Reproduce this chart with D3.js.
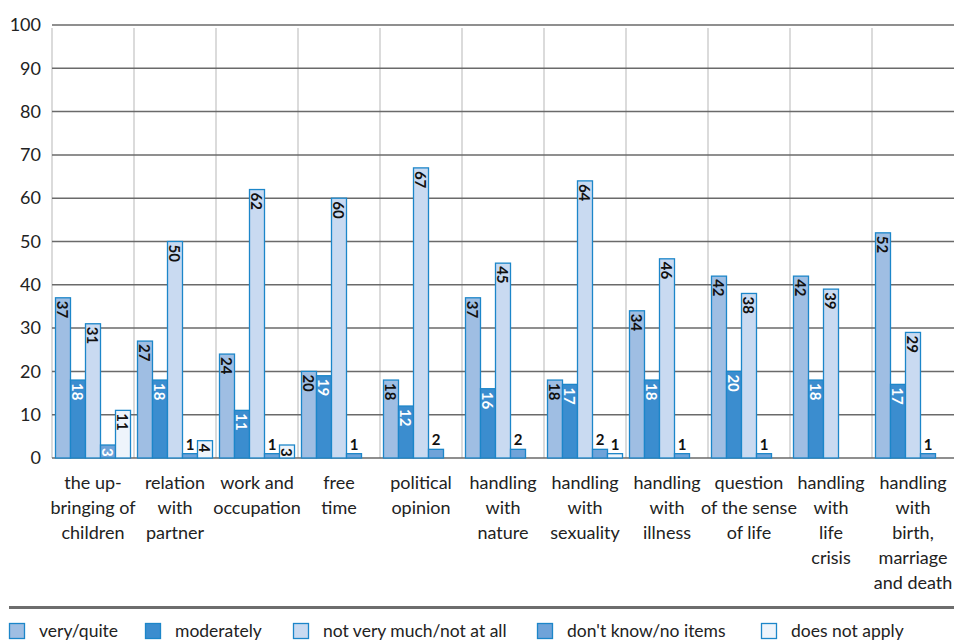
<!DOCTYPE html>
<html><head><meta charset="utf-8">
<script src="https://cdn.jsdelivr.net/npm/d3@7"></script>
<style>
body{margin:0;background:#fff;}
svg{display:block;font-family:Lato, "Open Sans", sans-serif;}
</style></head>
<body><svg id="chart" width="954" height="642"></svg>
<script>
const categories = [
  ["the up-","bringing of","children"],
  ["relation","with","partner"],
  ["work and","occupation"],
  ["free","time"],
  ["political","opinion"],
  ["handling","with","nature"],
  ["handling","with","sexuality"],
  ["handling","with","illness"],
  ["question","of the sense","of life"],
  ["handling","with","life","crisis"],
  ["handling","with","birth,","marriage","and death"]
];
const seriesNames = ["very/quite","moderately","not very much/not at all","don't know/no items","does not apply"];
const veryQuite   = [37,27,24,20,18,37,18,34,42,42,52];
const moderately  = [18,18,11,19,12,16,17,18,20,18,17];
const notVeryMuch = [31,50,62,60,67,45,64,46,38,39,29];
const dontKnow    = [3,1,1,1,2,2,2,1,1,null,1];
const notApply    = [11,4,3,null,null,null,1,null,null,null,null];
const yTicks = [0,10,20,30,40,50,60,70,80,90,100];

const seriesValues = [veryQuite, moderately, notVeryMuch, dontKnow, notApply];
const fills = ["#9fbee3","#3b8dcf","#c9daf1","#6fa3d9","#eef4fb"];
const labelColors = ["#111","#fff","#111","#fff","#111"];
const strokeCol = "#1c86c9";

const svg = d3.select("#chart");
const catIdx = categories.map((d,i)=>i);
const x = d3.scaleBand().domain(catIdx).range([52,954]);
const x1 = d3.scaleBand().domain(d3.range(seriesNames.length)).range([0,x.bandwidth()]).paddingOuter(0.233).paddingInner(0);
const y = d3.scaleLinear().domain([0,100]).range([458,25]);

// vertical light gridlines
svg.append("g").selectAll("line").data(catIdx).join("line")
  .attr("x1",d=>x(d)).attr("x2",d=>x(d)).attr("y1",y(100)+3).attr("y2",y(0))
  .attr("stroke","#cfcfcf").attr("stroke-width",1.5);

// horizontal gridlines
svg.append("g").selectAll("line").data(yTicks).join("line")
  .attr("x1",52).attr("x2",954).attr("y1",d=>y(d)).attr("y2",d=>y(d))
  .attr("stroke","#6a6a6a").attr("stroke-width",1.5);

// y axis labels
const yAxis = d3.axisLeft(y).tickValues(yTicks).tickSize(0).tickPadding(0);
const gy = svg.append("g").attr("transform","translate(41,0)").call(yAxis);
gy.select(".domain").remove();
gy.selectAll("text").attr("font-size",18).attr("fill","#222").attr("font-family","Lato, sans-serif");

// bars
const bars = [];
seriesValues.forEach((vals,s)=>{
  vals.forEach((v,c)=>{ if(v!==null) bars.push({s,c,v}); });
});
const g = svg.append("g");
g.selectAll("rect").data(bars).join("rect")
  .attr("x",d=>x(d.c)+x1(d.s))
  .attr("y",d=>y(d.v))
  .attr("width",x1.bandwidth())
  .attr("height",d=>y(0)-y(d.v))
  .attr("fill",d=>fills[d.s])
  .attr("stroke",strokeCol).attr("stroke-width",1.3);

// labels
bars.forEach(d=>{
  const cx = x(d.c)+x1(d.s)+x1.bandwidth()/2;
  if(d.v>=3){
    g.append("text")
      .attr("transform",`translate(${cx},${y(d.v)+3}) rotate(90)`)
      .attr("dominant-baseline","central")
      .attr("text-anchor","start")
      .attr("font-size",15).attr("font-weight","bold")
      .attr("fill",labelColors[d.s])
      .text(d.v);
  } else {
    g.append("text")
      .attr("x",cx).attr("y",y(d.v)-4)
      .attr("text-anchor","middle")
      .attr("font-size",15).attr("font-weight","bold")
      .attr("fill","#111")
      .text(d.v);
  }
});

// category labels
const cl = svg.append("g");
categories.forEach((lines,i)=>{
  const t = cl.append("text").attr("x",x(i)+x.bandwidth()/2).attr("y",489)
    .attr("text-anchor","middle").attr("font-size",18).attr("fill","#222");
  lines.forEach((ln,j)=>{
    t.append("tspan").attr("x",x(i)+x.bandwidth()/2).attr("dy",j===0?0:25).text(ln);
  });
});

// legend separator
svg.append("line").attr("x1",9).attr("x2",954).attr("y1",607.5).attr("y2",607.5)
  .attr("stroke","#6d6d6d").attr("stroke-width",3);

// legend
const legX = [9,145,293,537,761];
const lg = svg.append("g");
seriesNames.forEach((n,i)=>{
  lg.append("rect").attr("x",legX[i]+0.5).attr("y",623.5).attr("width",15).attr("height",15)
    .attr("fill",fills[i]).attr("stroke",strokeCol).attr("stroke-width",1.3);
  lg.append("text").attr("x",legX[i]+30).attr("y",637).attr("font-size",17.5).attr("fill","#222").text(n);
});
</script></body></html>
